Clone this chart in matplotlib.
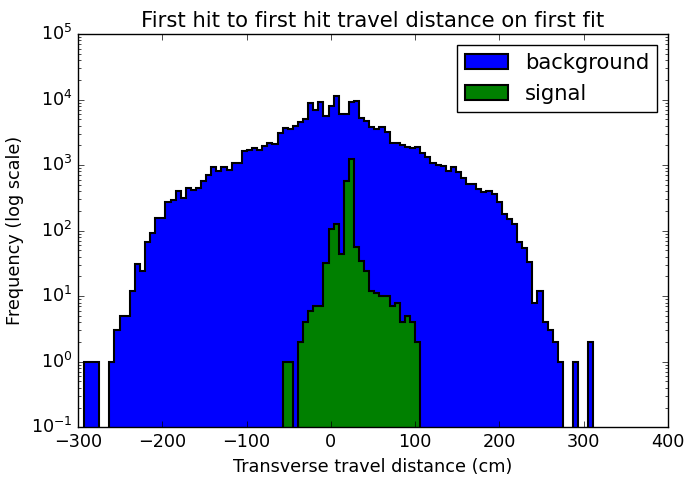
import numpy as np
import matplotlib
matplotlib.use("Agg")
import matplotlib.pyplot as plt

# bin range shared by both samples (cm), 100 bins
bin_lo = -293.0
bin_hi = 311.6
n_bins = 100

background = [
	1, 1, 1, 0, 0, 1, 3, 5, 5, 12,
	31, 24, 68, 91, 154, 154, 277, 290, 402, 318,
	452, 417, 455, 571, 715, 944, 820, 944, 840, 1086,
	1086, 1637, 1700, 1800, 1700, 1950, 2190, 2090, 3100, 3720,
	3500, 3940, 4490, 4990, 8920, 6920, 9270, 5550, 8100, 11300,
	6010, 6000, 9060, 9490, 5280, 4750, 3770, 3510, 3770, 3160,
	2190, 2150, 2020, 1900, 1800, 1900, 1545, 1313, 1064, 1000,
	970, 820, 930, 775, 641, 508, 508, 431, 393, 406,
	362, 276, 179, 150, 125, 66, 55, 33, 8, 12,
	4, 3, 2, 1, 0, 0, 1, 0, 0, 2,
]

signal = [
	0, 0, 0, 0, 0, 0, 0, 0, 0, 0,
	0, 0, 0, 0, 0, 0, 0, 0, 0, 0,
	0, 0, 0, 0, 0, 0, 0, 0, 0, 0,
	0, 0, 0, 0, 0, 0, 0, 0, 0, 1,
	1, 0, 2, 4, 6, 7, 7, 32, 106, 126,
	44, 577, 1225, 56, 34, 24, 12, 11, 10, 10,
	7, 8, 4, 5, 4, 2, 0, 0, 0, 0,
	0, 0, 0, 0, 0, 0, 0, 0, 0, 0,
	0, 0, 0, 0, 0, 0, 0, 0, 0, 0,
	0, 0, 0, 0, 0, 0, 0, 0, 0, 0,
]


def plot_hists():
	edges = np.linspace(bin_lo, bin_hi, n_bins + 1)
	centers = 0.5 * (edges[:-1] + edges[1:])

	plt.style.use("classic")
	plt.rcParams["font.size"] = 12.7
	fig = plt.figure(figsize=(6.88, 4.78), facecolor="white")
	ax = fig.add_axes([78 / 688, 1 - 427.3 / 478, 590 / 688, 393.3 / 478])

	ax.hist(centers, bins=edges, weights=background, histtype="stepfilled",
		color="b", log=True, label="background", linewidth=1.5)
	ax.hist(centers, bins=edges, weights=signal, histtype="stepfilled",
		color="g", log=True, label="signal", linewidth=1.5)

	ax.set_xlim(-300, 400)
	ax.set_ylim(0.1, 1e5)
	ax.set_title("First hit to first hit travel distance on first fit")
	ax.set_xlabel("Transverse travel distance (cm)")
	ax.set_ylabel("Frequency (log scale)")
	ax.legend(loc="upper right")

	fig.savefig("out.png", dpi=100, facecolor="white")


if __name__ == "__main__":
	plot_hists()
